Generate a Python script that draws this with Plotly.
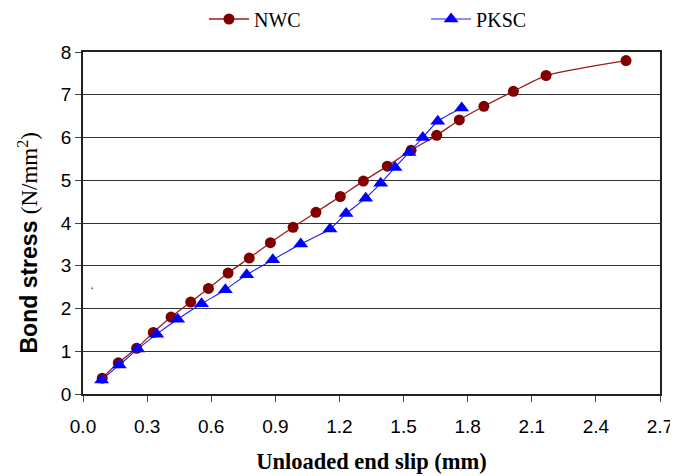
import plotly.graph_objects as go

nwc_slip = [0.090, 0.165, 0.251, 0.329, 0.412, 0.504, 0.587, 0.679, 0.778, 0.877, 0.983,
            1.090, 1.204, 1.312, 1.424, 1.535, 1.655, 1.761, 1.876, 2.014, 2.167, 2.541]
nwc_stress = [0.37, 0.73, 1.07, 1.44, 1.80, 2.15, 2.47, 2.83, 3.18, 3.54, 3.90,
              4.25, 4.62, 4.98, 5.33, 5.70, 6.05, 6.41, 6.73, 7.08, 7.45, 7.80]

pksc_slip = [0.087, 0.170, 0.256, 0.345, 0.443, 0.555, 0.666, 0.766, 0.888, 1.019, 1.156,
             1.231, 1.323, 1.393, 1.460, 1.526, 1.590, 1.660, 1.772]
pksc_stress = [0.33, 0.68, 1.05, 1.40, 1.75, 2.11, 2.44, 2.79, 3.14, 3.51, 3.86,
               4.22, 4.58, 4.93, 5.30, 5.65, 6.00, 6.38, 6.69]

x_ticks = [0.0, 0.3, 0.6, 0.9, 1.2, 1.5, 1.8, 2.1, 2.4, 2.7]
x_tick_labels = ["0.0", "0.3", "0.6", "0.9", "1.2", "1.5", "1.8", "2.1", "2.4", "2.7"]
y_ticks = [0, 1, 2, 3, 4, 5, 6, 7, 8]

fig = go.Figure()
fig.add_trace(go.Scatter(
    x=nwc_slip, y=nwc_stress, name="NWC", mode="lines+markers",
    line=dict(color="#9b1c1c", width=1.3, shape="spline", smoothing=0.6),
    marker=dict(symbol="circle", size=11, color="#800000"),
    legend="legend", showlegend=True,
))
fig.add_trace(go.Scatter(
    x=pksc_slip, y=pksc_stress, name="PKSC", mode="lines+markers",
    line=dict(color="#1a1aff", width=1.1, shape="spline", smoothing=0.6),
    marker=dict(symbol="triangle-up", size=13, color="#0000ff"),
    legend="legend2", showlegend=True,
))

# stray tick mark seen in the original
fig.add_annotation(x=0.04, y=2.40, text="ʻ", showarrow=False,
                   font=dict(size=10, color="black", family="Liberation Sans"))

# y-axis title (placed as annotation to match its offset position)
fig.add_annotation(
    xref="paper", yref="paper", x=-0.0953, y=0.443,
    xanchor="center", yanchor="middle", textangle=-90, showarrow=False,
    text="<b>Bond stress</b> <span style='font-family:Liberation Serif'>(N/mm<sup>2</sup>)</span>",
    font=dict(family="Liberation Sans", size=23, color="black"),
)

legend_font = dict(family="Liberation Serif", size=20, color="black")
fig.update_layout(
    width=670, height=468,
    margin=dict(l=75, r=18, t=44, b=82, autoexpand=False),
    paper_bgcolor="white", plot_bgcolor="white",
    font=dict(family="Liberation Sans", color="black"),
    showlegend=True,
    legend=dict(x=0.2925, y=0.9765, xref="container", yref="container",
                xanchor="left", yanchor="middle", orientation="h",
                font=legend_font, bgcolor="rgba(0,0,0,0)", itemwidth=40),
    legend2=dict(x=0.624, y=0.9765, xref="container", yref="container",
                 xanchor="left", yanchor="middle", orientation="h",
                 font=legend_font, bgcolor="rgba(0,0,0,0)", itemwidth=40),
    xaxis=dict(
        range=[0, 2.7], tickvals=x_ticks, ticktext=x_tick_labels,
        showgrid=False, zeroline=False,
        showline=True, linecolor="#222", linewidth=1.5, mirror=True,
        ticks="outside", ticklen=6, tickcolor="#444", ticklabelstandoff=8,
        tickfont=dict(family="Liberation Sans", size=19),
        title=dict(text="<b>Unloaded end slip (mm)</b>",
                   font=dict(family="Liberation Serif", size=22.5), standoff=18),
    ),
    yaxis=dict(
        range=[0, 8], tickvals=y_ticks,
        showgrid=True, gridcolor="#333", gridwidth=1, zeroline=False,
        showline=True, linecolor="#222", linewidth=1.5, mirror=True,
        ticks="outside", ticklen=6, tickcolor="#444",
        tickfont=dict(family="Liberation Sans", size=19),
    ),
)

fig.write_html("out.html")
